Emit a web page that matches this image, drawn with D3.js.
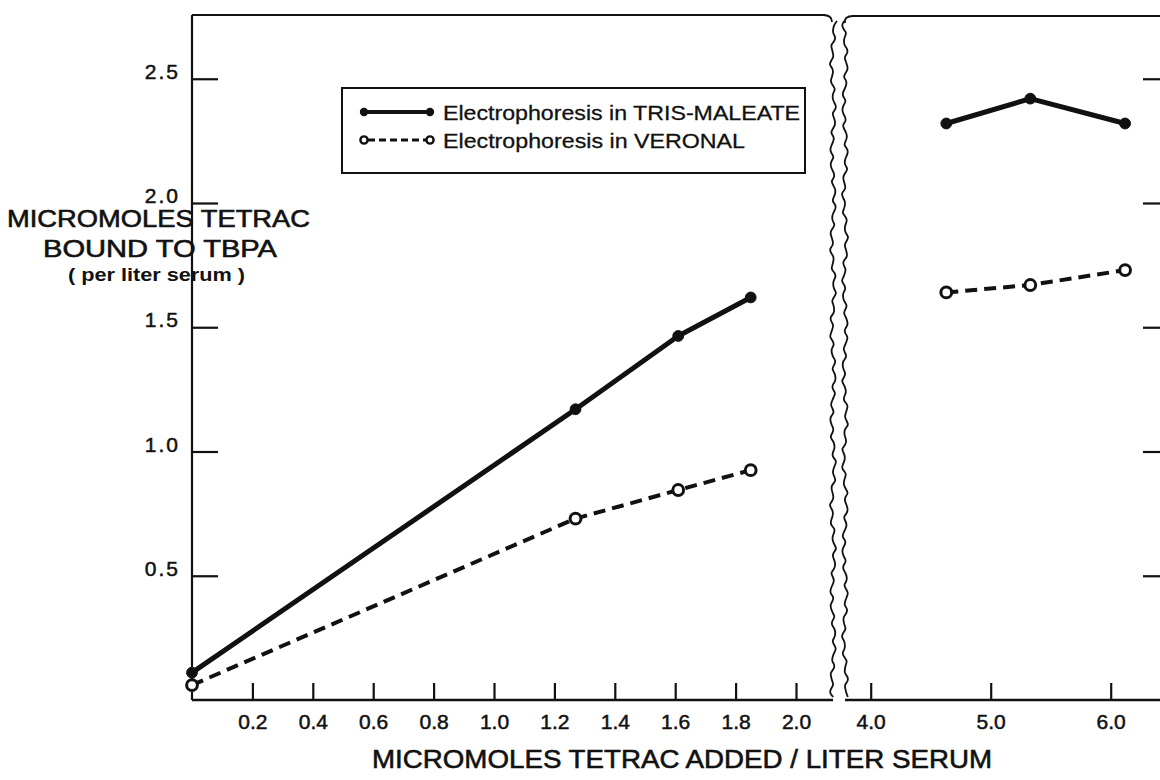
<!DOCTYPE html>
<html>
<head>
<meta charset="utf-8">
<script src="https://cdn.jsdelivr.net/npm/d3@7"></script>
<style>
  html, body { margin: 0; padding: 0; background: #fff; }
  svg { display: block; font-family: "Liberation Sans", Arial, sans-serif; }
</style>
</head>
<body>
<svg id="chart" width="1160" height="780"></svg>
<script>
// ---- data ----
const xLeftValues = [0, 1.27, 1.61, 1.85];
const trisLeft    = [0.11, 1.17, 1.465, 1.62];
const veronalLeft = [0.06, 0.73, 0.845, 0.925];

const xRightValues = [4.63, 5.33, 6.12];
const trisRight    = [2.32, 2.42, 2.32];
const veronalRight = [1.64, 1.67, 1.73];

const xLeftTicks  = [0.2, 0.4, 0.6, 0.8, 1.0, 1.2, 1.4, 1.6, 1.8, 2.0];
const xRightTicks = [4.0, 5.0, 6.0];
const yTicks      = [0.5, 1.0, 1.5, 2.0, 2.5];

const seriesNames = ["Electrophoresis in TRIS-MALEATE", "Electrophoresis in VERONAL"];
const yTitleLines = ["MICROMOLES TETRAC", "BOUND TO TBPA", "( per liter serum )"];
const xTitle = "MICROMOLES TETRAC ADDED / LITER SERUM";

// ---- layout ----
const svg = d3.select("#chart");
const ink = "#111";
const topY = 15, bottomY = 700;
const leftX0 = 192, leftX1 = 833;
const rightX0 = 845, rightAxisX = 1164;

const xL = d3.scaleLinear().domain([0, 2]).range([leftX0, leftX0 + 604]);
const xR = d3.scaleLinear().domain([4, 6]).range([870.7, 1110.7]);
const y  = d3.scaleLinear().domain([0, 2.5]).range([bottomY, bottomY - 621.25]);

// frame lines
const frame = svg.append("g").attr("stroke", ink).attr("stroke-width", 2.2).attr("fill", "none");
frame.append("line").attr("x1", leftX0).attr("x2", leftX1 - 8).attr("y1", topY).attr("y2", topY);
frame.append("line").attr("x1", leftX0).attr("x2", leftX0).attr("y1", topY).attr("y2", bottomY);
frame.append("line").attr("x1", leftX0).attr("x2", leftX1).attr("y1", bottomY).attr("y2", bottomY).attr("stroke-width", 2.6);
frame.append("line").attr("x1", rightX0 + 8).attr("x2", 1160).attr("y1", topY + 1).attr("y2", topY + 1);
frame.append("line").attr("x1", rightX0).attr("x2", 1160).attr("y1", bottomY).attr("y2", bottomY).attr("stroke-width", 2.6);

// wavy break lines (decorative, fixed wiggle pattern)
function wavy(x0, y0, y1, phase) {
  const pts = [];
  for (let yy = y0; yy <= y1; yy += 4) {
    const dx = 2.0 * Math.sin(yy * 0.37 + phase) + 1.4 * Math.sin(yy * 0.071 + phase * 2) + 0.8 * Math.sin(yy * 0.93 + phase);
    pts.push([x0 + dx, yy]);
  }
  return d3.line().curve(d3.curveBasis)(pts);
}
frame.append("path").attr("d", wavy(leftX1, topY + 6, bottomY, 0)).attr("stroke-width", 1.8);
frame.append("path").attr("d", "M" + (leftX1 - 10) + "," + topY + " Q" + (leftX1 - 1) + "," + topY + " " + (leftX1 - 1) + "," + (topY + 7)).attr("stroke-width", 1.8);
frame.append("path").attr("d", wavy(rightX0, topY + 6, bottomY, 1.7)).attr("stroke-width", 1.8);
frame.append("path").attr("d", "M" + (rightX0 + 8) + "," + (topY + 1) + " Q" + (rightX0 - 1) + "," + (topY + 1) + " " + (rightX0) + "," + (topY + 8)).attr("stroke-width", 1.8);

// axes
function styleAxis(g) {
  g.select(".domain").remove();
  g.selectAll(".tick line").attr("stroke", ink).attr("stroke-width", 2.2);
  g.selectAll(".tick text").attr("fill", ink).attr("font-size", 21)
    .attr("font-family", "Liberation Sans, Arial, sans-serif")
    .attr("stroke", ink).attr("stroke-width", 0.5);
}
svg.append("g").attr("transform", `translate(0,${bottomY})`)
  .call(d3.axisBottom(xL).tickValues(xLeftTicks).tickSize(-17).tickPadding(14).tickFormat(d3.format(".1f")))
  .call(styleAxis);
svg.append("g").attr("transform", `translate(0,${bottomY})`)
  .call(d3.axisBottom(xR).tickValues(xRightTicks).tickSize(-17).tickPadding(14).tickFormat(d3.format(".1f")))
  .call(styleAxis);
svg.append("g").attr("transform", `translate(${leftX0},0)`)
  .call(d3.axisLeft(y).tickValues(yTicks).tickSize(-26).tickPadding(12).tickFormat(d3.format(".1f")))
  .call(styleAxis)
  .call(g => g.selectAll(".tick text").attr("dy", "-0.02em").attr("letter-spacing", 2));
svg.append("g").attr("transform", `translate(${rightAxisX},0)`)
  .call(d3.axisRight(y).tickValues(yTicks).tickSize(-21).tickFormat(""))
  .call(styleAxis);

// series
function drawSeries(xs, ys, xScale, solid) {
  const pts = xs.map((d, i) => [xScale(d), y(ys[i])]);
  svg.append("path").attr("d", d3.line()(pts))
    .attr("fill", "none").attr("stroke", ink)
    .attr("stroke-width", solid ? 5 : 4)
    .attr("stroke-dasharray", solid ? null : "12,7")
    .attr("stroke-linejoin", "round");
  svg.append("g").selectAll("circle").data(pts).join("circle")
    .attr("cx", d => d[0]).attr("cy", d => d[1])
    .attr("r", 5.4)
    .attr("fill", solid ? ink : "#fff")
    .attr("stroke", ink).attr("stroke-width", solid ? 1 : 3);
}
drawSeries(xLeftValues, trisLeft, xL, true);
drawSeries(xLeftValues, veronalLeft, xL, false);
drawSeries(xRightValues, trisRight, xR, true);
drawSeries(xRightValues, veronalRight, xR, false);

// legend
const lg = svg.append("g");
lg.append("rect").attr("x", 342).attr("y", 88).attr("width", 463).attr("height", 85)
  .attr("fill", "#fff").attr("stroke", ink).attr("stroke-width", 2);
lg.append("line").attr("x1", 364).attr("x2", 430).attr("y1", 112).attr("y2", 112)
  .attr("stroke", ink).attr("stroke-width", 4);
[364, 430].forEach(cx => lg.append("circle").attr("cx", cx).attr("cy", 112).attr("r", 4.2).attr("fill", ink));
lg.append("line").attr("x1", 368).attr("x2", 426).attr("y1", 140).attr("y2", 140)
  .attr("stroke", ink).attr("stroke-width", 2.8).attr("stroke-dasharray", "7,4");
[364, 430].forEach(cx => lg.append("circle").attr("cx", cx).attr("cy", 140).attr("r", 3.6)
  .attr("fill", "#fff").attr("stroke", ink).attr("stroke-width", 2.4));
lg.append("text").attr("x", 443).attr("y", 119.5).attr("font-size", 21).attr("fill", ink)
  .attr("stroke", ink).attr("stroke-width", 0.3)
  .attr("textLength", 357).attr("lengthAdjust", "spacingAndGlyphs").text(seriesNames[0]);
lg.append("text").attr("x", 443).attr("y", 147.5).attr("font-size", 21).attr("fill", ink)
  .attr("stroke", ink).attr("stroke-width", 0.3)
  .attr("textLength", 302).attr("lengthAdjust", "spacingAndGlyphs").text(seriesNames[1]);

// y title
const yt = [
  {x: 7, y: 227, len: 303, size: 24, w: "normal"},
  {x: 43, y: 257, len: 234, size: 24, w: "normal"},
  {x: 68, y: 281, len: 177, size: 19, w: "bold"}
];
yTitleLines.forEach((t, i) => {
  svg.append("text").attr("x", yt[i].x).attr("y", yt[i].y).attr("font-size", yt[i].size)
    .attr("font-weight", yt[i].w).attr("fill", ink)
    .attr("stroke", ink).attr("stroke-width", yt[i].w === "bold" ? 0 : 0.6)
    .attr("textLength", yt[i].len).attr("lengthAdjust", "spacingAndGlyphs").text(t);
});

// x title
svg.append("text").attr("x", 372).attr("y", 768).attr("font-size", 26).attr("fill", ink)
  .attr("stroke", ink).attr("stroke-width", 0.6)
  .attr("textLength", 620).attr("lengthAdjust", "spacingAndGlyphs").text(xTitle);
</script>
</body>
</html>
